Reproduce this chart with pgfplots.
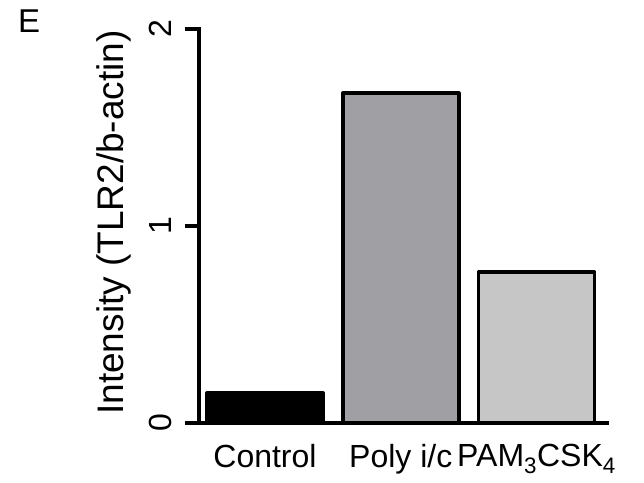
\documentclass[border=0pt]{standalone}
\usepackage{pgfplots}
\pgfplotsset{compat=1.18}
\usepackage{fontspec}
\setmainfont{Liberation Sans}
\definecolor{polygray}{RGB}{160,159,164}
\definecolor{pamgray}{RGB}{198,198,198}
\begin{document}
\begin{tikzpicture}
\useasboundingbox (0,0) rectangle (644pt,482pt);
\node[anchor=north west, inner sep=0pt, font=\fontsize{33}{36}\selectfont] at (18pt,472pt) {E};
\begin{axis}[
  at={(199pt,59pt)}, anchor=south west,
  scale only axis, width=408pt, height=394pt,
  xmin=-0.486, xmax=2.519, ymin=0, ymax=2,
  axis x line=bottom, axis y line=left,
  axis line style={-, line width=3.5pt, line cap=rect},
  xtick={0,1,2}, xticklabels={Control, Poly i/c, PAM\textsubscript{3}CSK\textsubscript{4}},
  x tick style={draw=none},
  ytick={0,1,2},
  y tick style={line width=3.5pt, black},
  tick align=outside, major tick length=14pt,
  ticklabel style={font=\fontsize{32}{36}\selectfont},
  /pgf/number format/assume math mode=true,
  yticklabel style={rotate=90, anchor=south, inner sep=0pt, inner ysep=13pt},
  xticklabel style={anchor=north, inner sep=0pt, yshift=-7pt},
  ylabel={Intensity (TLR2/b-actin)},
  ylabel style={font=\fontsize{37}{40}\selectfont, at={(axis description cs:-0.208,0.509)}, anchor=center},
  ybar, bar width=116pt, bar shift=0pt,
  every axis plot/.append style={line width=3.5pt, line join=round},
  clip=false,
]
\addplot[fill=black, draw=black] coordinates {(0,0.152)};
\addplot[fill=polygray, draw=black] coordinates {(1,1.675)};
\addplot[fill=pamgray, draw=black] coordinates {(2,0.767)};
\end{axis}
\end{tikzpicture}
\end{document}
